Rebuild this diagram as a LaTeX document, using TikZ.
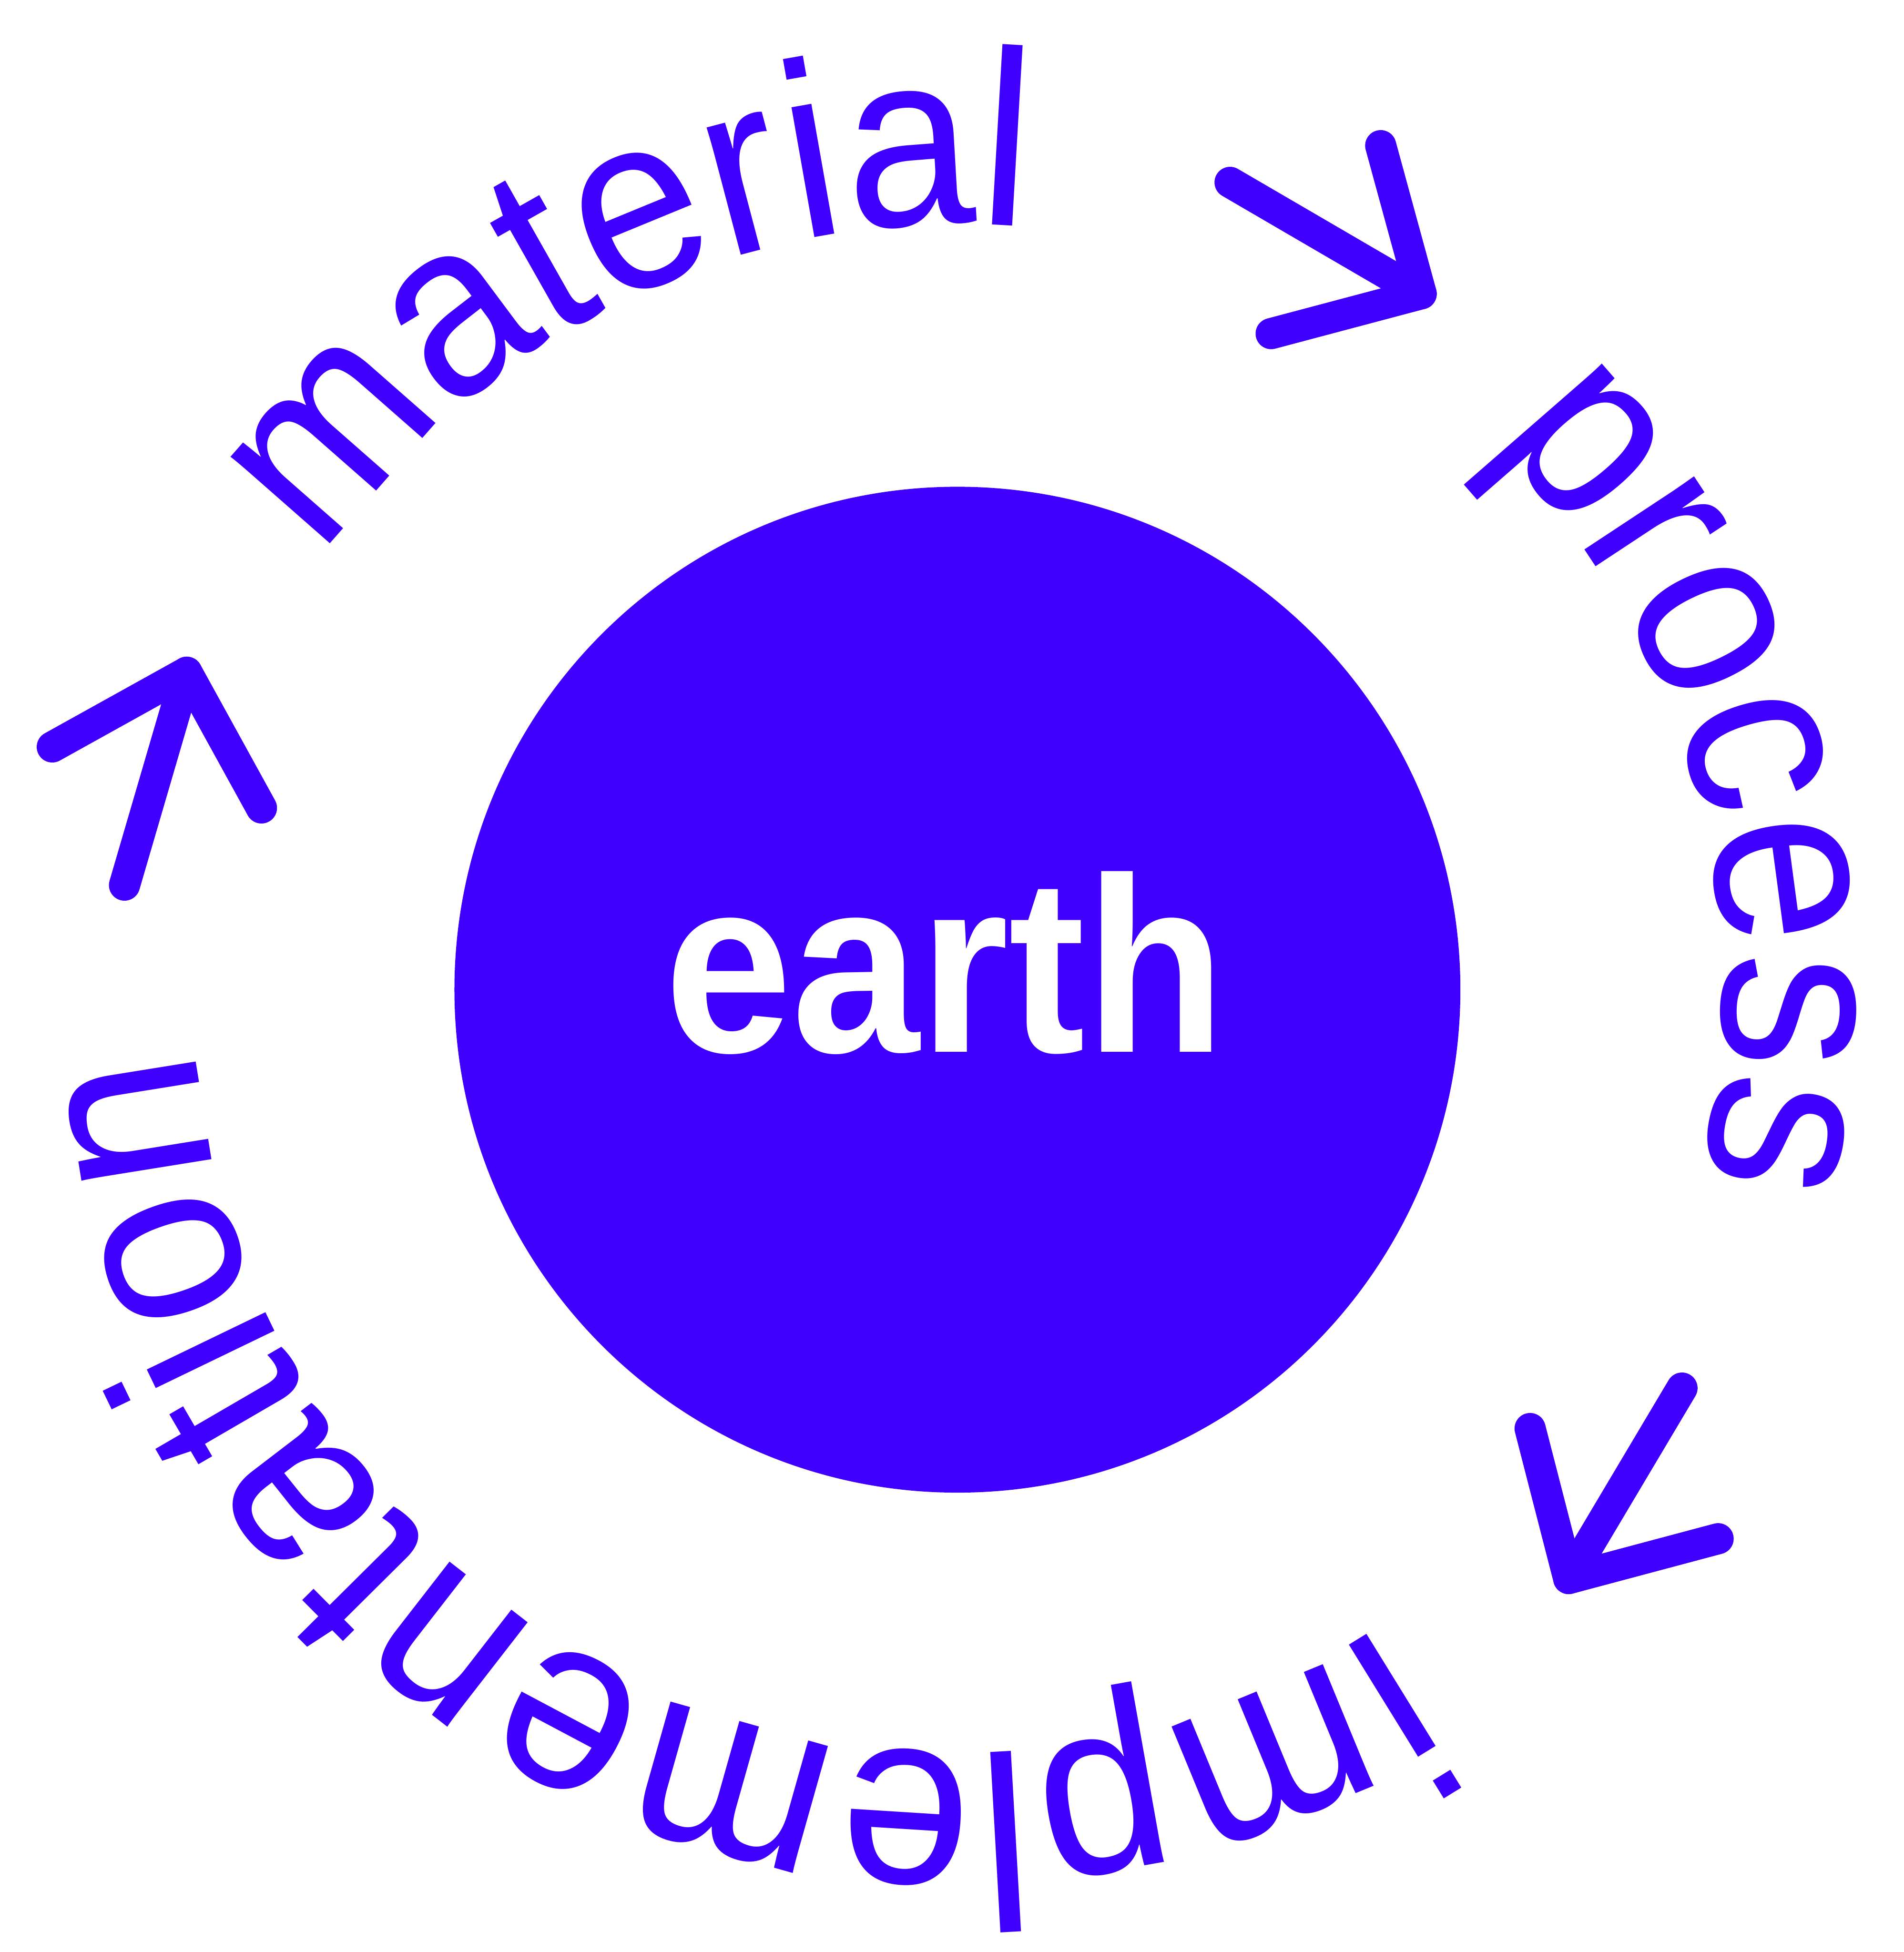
\documentclass[tikz,border=0pt]{standalone}
\usepackage{fontspec}
\newfontfamily\ringfont[FakeStretch=0.92]{Liberation Sans}
\newfontfamily\ringwidefont[FakeStretch=0.94]{Liberation Sans}
\usetikzlibrary{decorations.text}
\definecolor{brand}{HTML}{4000FF}
\begin{document}
\begin{tikzpicture}[
  arrowline/.style={brand,line width=0.25cm,line cap=round,line join=round},
  ringtext/.style 2 args={decorate,decoration={text along path,text align=left,text color=brand,
    text={|#1\fontsize{57}{60}\selectfont|#2}}}]
\useasboundingbox (0,0) rectangle (15.29,-15.68);
% centre disc
\coordinate (centre) at (7.69,-7.95);
\fill[brand] (centre) circle[radius=4.04];
\node[text=white,font=\ringfont\bfseries\fontsize{57}{60}\selectfont,inner sep=0pt,anchor=base] (earth) at (7.59,-8.45) {earth};
% words round the disc, clockwise
\path[ringtext={\ringfont}{material}] ([shift={(145.8:6.15)}]centre) arc[start angle=145.8,end angle=60,radius=6.15];
\path[ringtext={\ringfont}{process}] ([shift={(45.8:6.15)}]centre) arc[start angle=45.8,end angle=-40,radius=6.15];
\path[ringtext={\ringwidefont}{implementation}] ([shift={(-56.4:6.13)}]centre) arc[start angle=-56.4,end angle=-200,radius=6.13];
% arrows between the words
\coordinate (tailA) at (9.88,-1.465); \coordinate (tipA) at (11.415,-2.36);
\coordinate (wingA1) at (11.09,-1.17); \coordinate (wingA2) at (10.21,-2.68);
\draw[arrowline] (tailA) -- (tipA);
\draw[arrowline] (wingA1) -- (tipA) -- (wingA2);
\coordinate (tailB) at (13.51,-11.15); \coordinate (tipB) at (12.60,-12.68);
\coordinate (wingB1) at (12.29,-11.475); \coordinate (wingB2) at (13.80,-12.36);
\draw[arrowline] (tailB) -- (tipB);
\draw[arrowline] (wingB1) -- (tipB) -- (wingB2);
\coordinate (tailC) at (1.00,-7.11); \coordinate (tipC) at (1.50,-5.40);
\coordinate (wingC1) at (0.42,-6.00); \coordinate (wingC2) at (2.10,-6.49);
\draw[arrowline] (tailC) -- (tipC);
\draw[arrowline] (wingC1) -- (tipC) -- (wingC2);
\end{tikzpicture}
\end{document}
